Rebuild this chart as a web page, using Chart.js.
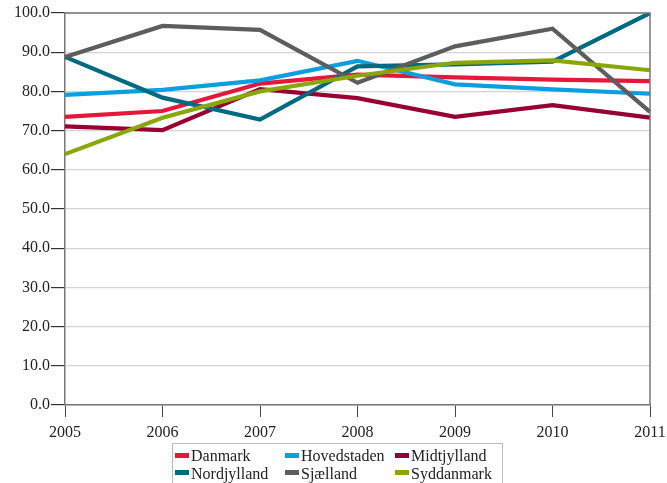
<!DOCTYPE html>
<html>
<head>
<meta charset="utf-8">
<script src="https://cdn.jsdelivr.net/npm/chart.js@4/dist/chart.umd.min.js"></script>
<style>
    body { margin: 0; background: #fff; }
    #wrap { position: relative; width: 667px; height: 483px; }
    #legend {
        position: absolute; left: 172px; top: 443px; width: 331px; height: 50px;
        border: 1px solid #bbb; box-sizing: border-box;
        font-family: "Liberation Serif", "Times New Roman", serif; font-size: 16px; color: #222;
    }
    #legend .item { position: absolute; white-space: nowrap; line-height: 17px; }
    #legend .sw { display: inline-block; width: 14px; height: 5px; vertical-align: middle; margin-right: 2px; position: relative; top: -2px; }
</style>
</head>
<body>
<div id="wrap">
    <canvas id="chart" width="667" height="483"></canvas>
    <div id="legend"></div>
</div>
<script>
    var years = ["2005", "2006", "2007", "2008", "2009", "2010", "2011"];
    var names = ["Danmark", "Hovedstaden", "Midtjylland", "Nordjylland", "Sjælland", "Syddanmark"];
    var colors = ["#e5173b", "#0c9fe0", "#980032", "#006a80", "#5d5d5d", "#8aa70a"];

    var danmark     = [73.5, 75.0, 82.0, 84.3, 83.6, 83.0, 82.6];
    var hovedstaden = [79.1, 80.4, 82.8, 87.8, 81.8, 80.5, 79.4];
    var midtjylland = [71.1, 70.1, 80.6, 78.3, 73.5, 76.5, 73.3];
    var nordjylland = [88.8, 78.4, 72.8, 86.4, 86.9, 87.6, 100.0];
    var sjaelland   = [88.8, 96.7, 95.7, 82.2, 91.5, 96.0, 74.8];
    var syddanmark  = [64.0, 73.3, 80.0, 84.0, 87.3, 87.9, 85.4];
    var series = [danmark, hovedstaden, midtjylland, nordjylland, sjaelland, syddanmark];

    var serif = "'Liberation Serif', 'Times New Roman', serif";

    // box around the plot area
    var frame = {
        id: "frame",
        afterDatasetsDraw: function (chart) {
            var a = chart.chartArea, c = chart.ctx;
            c.save();
            c.strokeStyle = "#777";
            c.lineWidth = 1.5;
            c.beginPath();
            c.moveTo(a.left, a.top);
            c.lineTo(a.right, a.top);
            c.lineTo(a.right, a.bottom);
            c.stroke();
            c.restore();
        }
    };

    var datasets = series.map(function (d, i) {
        return {
            label: names[i],
            data: d,
            borderColor: colors[i],
            backgroundColor: colors[i],
            borderWidth: 4.2,
            pointRadius: 0,
            tension: 0,
            order: names.length - i
        };
    });

    new Chart(document.getElementById("chart").getContext("2d"), {
        type: "line",
        data: { labels: years, datasets: datasets },
        plugins: [frame],
        options: {
            responsive: false,
            animation: false,
            layout: { padding: { left: 0, right: 17, top: 13, bottom: 0 } },
            plugins: { legend: { display: false }, tooltip: { enabled: false } },
            scales: {
                x: {
                    offset: false,
                    grid: { drawOnChartArea: false, tickLength: 12, tickColor: "#444" },
                    border: { color: "#777", width: 1.5 },
                    ticks: { color: "#222", font: { family: serif, size: 16 }, padding: 6, maxRotation: 0 },
                    afterFit: function (s) {
                        s.height = 78;
                        s.paddingLeft = 0;
                        s.paddingRight = 0;
                    }
                },
                y: {
                    min: 0,
                    max: 100,
                    grid: { color: "#d4d4d4", lineWidth: 1.2, tickLength: 14, tickColor: "#333" },
                    border: { color: "#777", width: 1.5 },
                    ticks: {
                        stepSize: 10,
                        color: "#222",
                        font: { family: serif, size: 16 },
                        padding: 1,
                        callback: function (v) { return v.toFixed(1); }
                    },
                    afterFit: function (s) { s.width = 65; }
                }
            }
        }
    });

    // legend: 3 columns, 2 rows
    var legend = document.getElementById("legend");
    names.forEach(function (n, i) {
        var el = document.createElement("div");
        el.className = "item";
        el.style.left = (2 + (i % 3) * 110) + "px";
        el.style.top = (3 + Math.floor(i / 3) * 17.5) + "px";
        el.innerHTML = '<span class="sw" style="background:' + colors[i] + '"></span>' + n;
        legend.appendChild(el);
    });
</script>
</body>
</html>
